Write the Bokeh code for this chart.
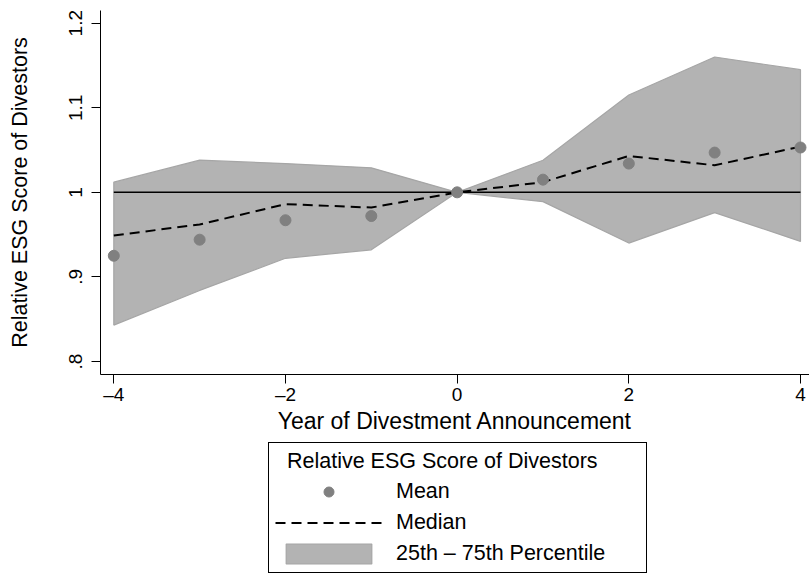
from bokeh.plotting import figure
from bokeh.layouts import column
from bokeh.models import Range1d, Legend, LegendItem, FixedTicker
from bokeh.embed import file_html
from bokeh.resources import INLINE

# ---- data ----
years = [-4, -3, -2, -1, 0, 1, 2, 3, 4]
mean_vals = [0.925, 0.944, 0.967, 0.972, 1.000, 1.015, 1.034, 1.047, 1.053]
median_vals = [0.949, 0.962, 0.986, 0.982, 1.000, 1.012, 1.043, 1.032, 1.054]
p75_vals = [1.012, 1.038, 1.034, 1.029, 1.000, 1.038, 1.115, 1.160, 1.145]
p25_vals = [0.843, 0.884, 0.922, 0.932, 1.000, 0.989, 0.940, 0.976, 0.942]
reference_level = 1.0

x_ticks = [-4, -2, 0, 2, 4]
x_tick_labels = ["\u20134", "\u20132", "0", "2", "4"]
y_ticks = [0.8, 0.9, 1.0, 1.1, 1.2]
y_tick_labels = [".8", ".9", "1", "1.1", "1.2"]

x_title = "Year of Divestment Announcement"
y_title = "Relative ESG Score of Divestors"
legend_title = "Relative ESG Score of Divestors"
legend_labels = ["Mean", "Median", "25th \u2013 75th Percentile"]

FONT = "Liberation Sans"
BAND_FILL, BAND_LINE = "#b3b3b3", "#a6a6a6"
DOT = "#808080"

band_x = years + years[::-1]
band_y = p75_vals + p25_vals[::-1]


def draw_series(fig):
    band = fig.patch(band_x, band_y, fill_color=BAND_FILL, line_color=BAND_LINE, line_width=1.2)
    med = fig.line(years, median_vals, line_color="black", line_width=2, line_dash="10 6")
    mn = fig.scatter(years, mean_vals, size=11, fill_color=DOT, line_color=DOT)
    return band, med, mn


p = figure(width=809, height=440, output_backend="svg", toolbar_location=None,
           x_range=Range1d(-4.155, 4.105), y_range=Range1d(0.7846, 1.215),
           min_border_left=100, min_border_right=0, min_border_top=10,
           min_border_bottom=66)
p.outline_line_color = None
p.xgrid.visible = False
p.ygrid.visible = False
p.background_fill_color = "white"
p.border_fill_color = "white"

band = p.patch(band_x, band_y, fill_color=BAND_FILL, line_color=BAND_LINE, line_width=1.2)
p.line(years, [reference_level] * len(years), line_color="black", line_width=1.5)
p.line(years, median_vals, line_color="black", line_width=2, line_dash="10 6")
p.scatter(years, mean_vals, size=11, fill_color=DOT, line_color=DOT)

# axes
for ax in (p.xaxis[0], p.yaxis[0]):
    ax.axis_line_color = "black"
    ax.axis_line_width = 1
    ax.major_tick_line_color = "black"
    ax.major_tick_out = 9
    ax.major_tick_in = 0
    ax.minor_tick_out = 0
    ax.minor_tick_in = 0
    ax.major_label_text_font = FONT
    ax.major_label_text_font_size = "19px"
    ax.major_label_text_color = "black"
    ax.axis_label_text_font = FONT
    ax.axis_label_text_font_style = "normal"
    ax.axis_label_text_color = "black"

p.xaxis.ticker = FixedTicker(ticks=x_ticks)
p.xaxis.major_label_overrides = dict(zip(x_ticks, x_tick_labels))
p.xaxis.axis_label = x_title
p.xaxis.axis_label_text_font_size = "23px"
p.xaxis.major_label_standoff = 0
p.xaxis.axis_label_standoff = 0

p.yaxis.ticker = FixedTicker(ticks=y_ticks)
p.yaxis.major_label_overrides = dict(zip(y_ticks, y_tick_labels))
p.yaxis.major_label_orientation = "vertical"
p.yaxis.axis_label = y_title
p.yaxis.axis_label_text_font_size = "21.5px"
p.yaxis.major_label_standoff = 9
p.yaxis.axis_label_standoff = 35

# ---- legend panel below the chart (same series, drawn outside its view) ----
q = figure(width=809, height=134, output_backend="svg", toolbar_location=None,
           x_range=Range1d(100, 101), y_range=Range1d(100, 101),
           x_axis_location=None, y_axis_location=None,
           min_border_left=0, min_border_right=0, min_border_top=0, min_border_bottom=0)
q.outline_line_color = None
q.xgrid.visible = False
q.ygrid.visible = False
q.background_fill_color = "white"
q.border_fill_color = "white"
lg_band, lg_med, lg_mean = draw_series(q)

legend = Legend(
    items=[LegendItem(label=legend_labels[0], renderers=[lg_mean]),
           LegendItem(label=legend_labels[1], renderers=[lg_med]),
           LegendItem(label=legend_labels[2], renderers=[lg_band])],
    title="\u00a0\u00a0" + legend_title,
    location=(168, 1),
    title_text_font=FONT, title_text_font_size="21.5px", title_text_font_style="normal",
    title_text_color="black", title_standoff=5,
    label_text_font=FONT, label_text_font_size="21.5px", label_text_color="black",
    border_line_color="black", border_line_width=1, border_line_alpha=1,
    background_fill_color="white", background_fill_alpha=1,
    padding=6, spacing=6, margin=0,
    glyph_width=107, glyph_height=25, label_height=24, label_standoff=14, label_width=244,
)
q.add_layout(legend)

layout = column(p, q, spacing=0)
open("out.html", "w").write(file_html(layout, INLINE))
